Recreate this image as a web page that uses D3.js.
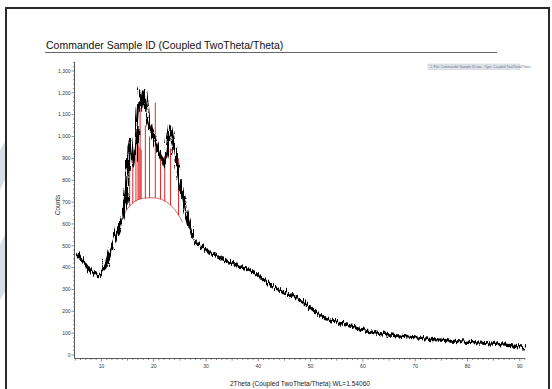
<!DOCTYPE html>
<html>
<head>
<meta charset="utf-8">
<script src="https://cdn.jsdelivr.net/npm/d3@7"></script>
<style>
  body { margin: 0; background: #fff; }
  svg { display: block; font-family: "Liberation Sans", Arial, sans-serif; }
</style>
</head>
<body>
<div id="chart-area"></div>
<script>
var twoTheta = [5.0, 5.5, 6.0, 6.5, 7.0, 7.5, 8.0, 8.5, 9.0, 9.5, 10.0, 10.5, 11.0, 11.5, 12.0, 12.5, 13.0, 13.5, 14.0, 14.3,
    14.6, 14.9, 15.2, 15.5, 15.85, 16.1, 16.5, 16.8, 17.1, 17.4, 17.65, 17.9, 18.2, 18.5, 19.0, 19.7, 20.3, 20.8, 21.3, 21.6,
    22.0, 22.4, 22.8, 23.2, 23.6, 24.1, 24.6, 25.1, 25.7, 26.4, 27.0, 27.6, 28.5, 29.5, 30.8, 32.0, 33.5, 35.0, 36.5, 38.0,
    39.5, 41.0, 42.5, 44.0, 45.5, 47.0, 48.5, 50.0, 51.5, 53.0, 55.0, 57.5, 60.0, 62.5, 65.0, 67.5, 70.0, 72.5, 75.0, 77.5,
    80.0, 82.5, 85.0, 87.5, 90.0, 90.8];
var counts = [470, 455, 440, 425, 410, 395, 385, 375, 372, 380, 395, 420, 450, 490, 525, 560, 590, 630, 665, 700,
    770, 950, 995, 930, 870, 900, 1010, 1110, 1220, 1145, 1180, 1215, 1150, 1090, 1040, 1005, 965, 930, 905, 875,
    915, 990, 1060, 1010, 955, 870, 800, 735, 670, 605, 560, 530, 505, 493, 472, 456, 440, 425, 412, 398,
    375, 345, 320, 300, 285, 270, 245, 215, 188, 170, 155, 140, 120, 108, 100, 93, 87, 81, 76, 71,
    67, 63, 58, 53, 45, 40];

// fitted amorphous hump (red arc)
var hump2Theta = [13.5, 14.5, 15.5, 16.5, 17.5, 18.5, 19.5, 20.5, 21.5, 22.5, 23.5, 24.5, 25.5];
var humpCounts = [600, 650, 685, 705, 715, 719, 720, 718, 712, 700, 680, 650, 608];

// reference sticks (red)
var stickPos  = [15.4, 16.0, 16.6, 17.0, 17.2, 17.4, 17.6, 18.4, 19.2, 20.3, 21.3, 22.1, 23.2, 24.75];
var stickTop  = [855, 950, 1000, 960, 950, 1130, 940, 1050, 1000, 1155, 930, 910, 945, 900];
var stickBase = [680, 693, 703, 710, 712, 714, 716, 717, 720, 719, 713, 703, 685, 640];

var xTicks = [10, 20, 30, 40, 50, 60, 70, 80, 90];
var yTicks = [0, 100, 200, 300, 400, 500, 600, 700, 800, 900, 1000, 1100, 1200, 1300];

var width = 552, height = 389;

var svg = d3.select("#chart-area").append("svg")
    .attr("width", width)
    .attr("height", height);

// rough-edge filter so the trace reads like the noisy scan
var defs = svg.append("defs");
var rough = defs.append("filter").attr("id", "rough")
    .attr("x", "-5%").attr("y", "-5%").attr("width", "110%").attr("height", "110%");
rough.append("feTurbulence")
    .attr("type", "turbulence")
    .attr("baseFrequency", "0.9 0.03")
    .attr("numOctaves", 2)
    .attr("seed", 3)
    .attr("result", "noise");
rough.append("feDisplacementMap")
    .attr("in", "SourceGraphic")
    .attr("in2", "noise")
    .attr("scale", 7)
    .attr("xChannelSelector", "G")
    .attr("yChannelSelector", "R");

// faint watermark bits and page frame
svg.append("polygon").attr("points", "0,150 6,140 6,178 0,190").attr("fill", "#d8dee6");
svg.append("polygon").attr("points", "0,245 6,232 6,290 0,300").attr("fill", "#d8dee6");
svg.append("rect")
    .attr("x", 6).attr("y", 8)
    .attr("width", 543).attr("height", 400)
    .attr("fill", "none")
    .attr("stroke", "#2a2a2a")
    .attr("stroke-width", 2);

// title
svg.append("text")
    .attr("x", 46).attr("y", 49)
    .attr("font-size", 10.5)
    .attr("fill", "#111")
    .text("Commander Sample ID (Coupled TwoTheta/Theta)");
svg.append("line")
    .attr("x1", 45).attr("x2", 497)
    .attr("y1", 52.5).attr("y2", 52.5)
    .attr("stroke", "#666").attr("stroke-width", 1);

// legend box
svg.append("rect")
    .attr("x", 428).attr("y", 64)
    .attr("width", 92).attr("height", 5.5)
    .attr("fill", "#dfe4ec").attr("stroke", "#c4cad4").attr("stroke-width", 0.5);
svg.append("text")
    .attr("x", 430).attr("y", 68.1)
    .attr("font-size", 3.3)
    .attr("fill", "#6a7080")
    .text("1: File: Commander Sample ID.raw - Type: Coupled TwoTheta/Theta");

// scales
var x = d3.scaleLinear().domain([4.85, 91]).range([74.5, 525]);
var y = d3.scaleLinear().domain([0, 1300]).range([355, 71]);
var axisY = 358.5;

// y axis
var yAxis = svg.append("g").attr("transform", "translate(74.5,0)");
yAxis.append("line").attr("y1", 62).attr("y2", axisY).attr("stroke", "#333").attr("stroke-width", 0.8);
yAxis.selectAll(".ymin")
    .data(d3.range(0, 1341, 20))
    .enter().append("line")
    .attr("x1", (d) => { return d % 100 === 0 ? -3 : -1.5; })
    .attr("x2", 0)
    .attr("y1", (d) => { return y(d); })
    .attr("y2", (d) => { return y(d); })
    .attr("stroke", "#444").attr("stroke-width", 0.6);
yAxis.selectAll(".ylab")
    .data(yTicks)
    .enter().append("text")
    .attr("x", -4).attr("y", (d) => { return y(d) + 1.8; })
    .attr("text-anchor", "end")
    .attr("font-size", 5)
    .attr("fill", "#333")
    .text((d) => { return d3.format(",")(d); });

svg.append("text")
    .attr("transform", "translate(59.5,205) rotate(-90)")
    .attr("text-anchor", "middle")
    .attr("font-size", 6.5)
    .attr("fill", "#333")
    .text("Counts");

// x axis
var xAxis = svg.append("g");
xAxis.append("line").attr("x1", 74.5).attr("x2", 525).attr("y1", axisY).attr("y2", axisY)
    .attr("stroke", "#333").attr("stroke-width", 0.8);
xAxis.selectAll(".xmin")
    .data(d3.range(5, 92, 1))
    .enter().append("line")
    .attr("x1", (d) => { return x(d); })
    .attr("x2", (d) => { return x(d); })
    .attr("y1", axisY)
    .attr("y2", (d) => { return axisY + (d % 10 === 0 ? 3 : (d % 5 === 0 ? 2.2 : 1.5)); })
    .attr("stroke", "#444").attr("stroke-width", 0.6);
xAxis.selectAll(".xlab")
    .data(xTicks)
    .enter().append("text")
    .attr("x", (d) => { return x(d); })
    .attr("y", 368)
    .attr("text-anchor", "middle")
    .attr("font-size", 5)
    .attr("fill", "#333")
    .text((d) => { return d; });

svg.append("text")
    .attr("x", 300).attr("y", 386)
    .attr("text-anchor", "middle")
    .attr("font-size", 6.6)
    .attr("fill", "#222")
    .text("2Theta (Coupled TwoTheta/Theta) WL=1.54060");

// hump and sticks
svg.append("path")
    .datum(hump2Theta.map((d, i) => { return [d, humpCounts[i]]; }))
    .attr("d", d3.line().curve(d3.curveNatural).x((d) => { return x(d[0]); }).y((d) => { return y(d[1]); }))
    .attr("fill", "none")
    .attr("stroke", "#c83030")
    .attr("stroke-width", 0.7);

svg.selectAll(".stick")
    .data(stickPos)
    .enter().append("line")
    .attr("x1", (d) => { return x(d); })
    .attr("x2", (d) => { return x(d); })
    .attr("y1", (d, i) => { return y(stickBase[i]); })
    .attr("y2", (d, i) => { return y(stickTop[i]); })
    .attr("stroke", "#e01010")
    .attr("stroke-width", 0.9);

// measured pattern
var pattern = twoTheta.map((d, i) => { return [d, counts[i]]; });
var line = d3.line()
    .x((d) => { return x(d[0]); })
    .y((d) => { return y(d[1]); });

svg.append("path")
    .datum(pattern)
    .attr("d", line)
    .attr("fill", "none")
    .attr("stroke", "#000")
    .attr("stroke-width", 3.2)
    .attr("stroke-linejoin", "round")
    .attr("filter", "url(#rough)");
</script>
</body>
</html>
